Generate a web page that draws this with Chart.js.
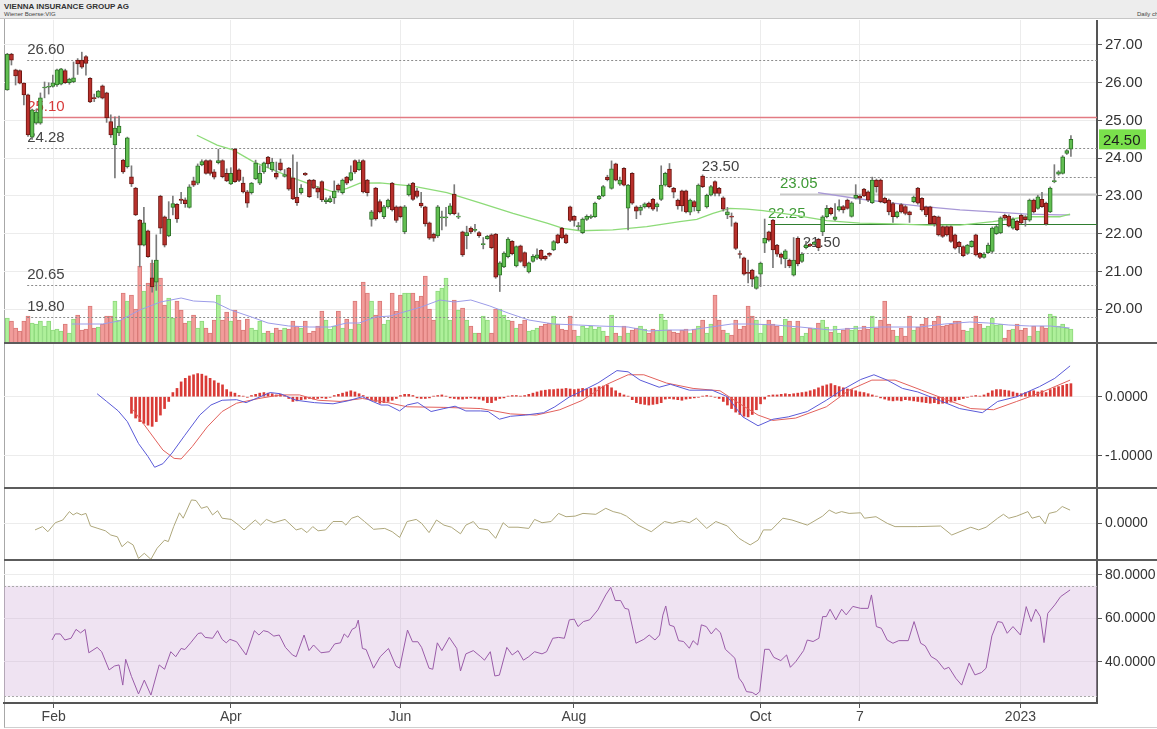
<!DOCTYPE html>
<html>
<head>
<meta charset="utf-8">
<script src="https://cdn.jsdelivr.net/npm/chart.js@4.4.1/dist/chart.umd.min.js"></script>
<style>
  body { margin: 0; background: #fff; width: 1157px; height: 729px; overflow: hidden; position: relative; font-family: 'Liberation Sans', Arial, sans-serif; }
  .pane { position: absolute; left: 0; width: 1157px; }
  #hdr { position: absolute; left: 0; top: 0; width: 1157px; height: 18px; background: #ededed; border-bottom: 1px solid #c6c6c6; overflow: hidden; }
  #hdr .t { position: absolute; left: 4px; top: 2px; font-size: 8px; font-weight: bold; color: #333; }
  #hdr .s { position: absolute; left: 4px; top: 11px; font-size: 6px; color: #444; }
  #hdr .d { position: absolute; left: 1137px; top: 11px; font-size: 6px; color: #444; white-space: nowrap; }
  .sep { position: absolute; left: 4px; width: 1153px; height: 2px; background: #5c5c5c; }
  #frame { position: absolute; left: 4px; top: 19px; width: 1153px; height: 708px; border-left: 1px solid #a8a8a8; border-bottom: 1px solid #cfcfcf; }
</style>
</head>
<body>
<div id="hdr">
  <div class="t">VIENNA INSURANCE GROUP AG</div>
  <div class="s">Wiener Boerse:VIG</div>
  <div class="d">Daily chart</div>
</div>
<div id="frame"></div>
<div class="pane" style="top:20px;height:323px"><canvas id="priceChart"></canvas></div>
<div class="pane" style="top:343px;height:145px"><canvas id="macdChart"></canvas></div>
<div class="pane" style="top:488px;height:72px"><canvas id="momChart"></canvas></div>
<div class="pane" style="top:560px;height:169px"><canvas id="rsiChart"></canvas></div>
<div class="sep" style="top:342px"></div>
<div class="sep" style="top:487px"></div>
<div class="sep" style="top:559px"></div>
<script>
// ---- daily candles, Jan 2022 .. Jan 2023 ----
const opens = [
  25.81, 26.76, 26.34, 26.32, 25.99, 25.68, 24.56, 24.93, 24.93, 25.86,
  25.88, 25.9, 25.94, 25.96, 26.32, 26.0, 26.02, 26.6, 26.6, 26.69,
  26.12, 25.6, 25.62, 25.92, 25.73, 24.97, 24.35, 24.67, 23.95, 23.78,
  23.51, 23.21, 22.36, 21.7, 22.08, 20.83, 20.72, 23.0, 22.45, 21.94,
  22.7, 22.78, 22.92, 22.9, 22.7, 23.4, 23.34, 23.82, 23.94, 23.94,
  23.64, 23.88, 23.94, 23.6, 23.32, 24.24, 23.69, 23.34, 23.11, 23.09,
  23.45, 23.34, 23.64, 24.03, 23.7, 23.6, 23.88, 23.52, 23.74, 23.48,
  22.97, 23.09, 23.6, 23.42, 23.42, 23.21, 23.38, 22.85, 22.85, 22.95,
  23.29, 23.09, 23.5, 23.42, 23.94, 23.7, 23.94, 23.42, 22.38, 23.21,
  22.85, 22.45, 22.71, 23.34, 22.71, 22.71, 22.05, 23.03, 23.34, 23.14,
  22.81, 22.71, 22.29, 21.99, 21.94, 22.42, 22.42, 22.53, 23.05, 22.44,
  22.05, 21.95, 22.15, 22.09, 22.03, 21.71, 21.87, 21.97, 21.99, 20.9,
  21.12, 21.39, 21.8, 21.15, 21.68, 21.5, 20.99, 21.27, 21.35, 21.56,
  21.4, 21.48, 21.57, 21.97, 22.15, 21.97, 22.71, 22.46, 22.19, 22.03,
  22.38, 22.43, 22.45, 22.92, 23.0, 23.5, 23.2, 23.85, 23.31, 23.73,
  22.68, 23.6, 22.71, 22.62, 22.71, 22.81, 22.91, 22.71, 22.91, 23.29,
  23.71, 23.2, 22.89, 23.14, 23.14, 22.57, 22.85, 22.61, 23.53, 22.71,
  23.02, 23.38, 23.2, 22.95, 22.5, 22.45, 22.29, 21.47, 21.36, 20.97,
  21.04, 20.55, 20.93, 21.75, 22.05, 22.36, 21.7, 21.46, 21.33, 21.3,
  20.9, 21.88, 21.27, 21.63, 21.72, 21.72, 21.85, 22.05, 22.45, 22.67,
  22.38, 22.63, 22.72, 22.89, 22.46, 22.94, 23.0, 23.18, 23.11, 22.82,
  23.42, 23.42, 22.94, 22.89, 22.8, 22.45, 22.77, 22.72, 22.58, 22.85,
  23.21, 22.94, 22.71, 22.71, 22.46, 22.45, 22.19, 22.19, 22.19, 21.97,
  21.77, 21.66, 21.48, 21.66, 21.97, 21.48, 21.37, 21.5, 21.53, 22.0,
  22.02, 22.49, 22.47, 22.15, 22.33, 22.49, 22.45, 22.36, 22.89, 22.67,
  22.91, 22.81, 22.58, 23.38, 23.58, 23.6, 24.13, 24.24
]
const highs = [
  26.78, 26.78, 26.36, 26.34, 26.0, 25.7, 25.3, 25.3, 25.73, 26.02,
  26.0, 26.2, 26.36, 26.38, 26.36, 26.12, 26.55, 26.64, 26.81, 26.72,
  26.14, 25.7, 25.8, 25.94, 25.75, 25.15, 25.1, 25.12, 23.97, 24.56,
  23.8, 23.23, 22.38, 22.7, 22.1, 21.3, 21.97, 23.02, 22.47, 22.85,
  23.0, 22.8, 23.1, 22.95, 23.3, 23.5, 23.85, 23.96, 23.96, 23.96,
  23.7, 24.24, 23.96, 23.72, 23.75, 24.26, 23.72, 23.5, 23.15, 23.36,
  23.95, 23.8, 23.9, 24.05, 24.0, 23.9, 23.98, 23.7, 23.76, 24.09,
  23.9, 23.3, 23.62, 23.44, 23.44, 23.25, 23.4, 22.95, 23.0, 23.4,
  23.32, 23.45, 23.52, 23.8, 23.96, 23.96, 23.96, 23.44, 22.62, 23.23,
  22.9, 22.75, 22.92, 23.36, 22.74, 22.73, 22.75, 23.32, 23.36, 23.2,
  23.1, 22.73, 22.31, 22.02, 22.75, 22.6, 22.7, 22.8, 23.3, 22.55,
  22.07, 22.2, 22.18, 22.25, 22.06, 21.9, 21.96, 22.0, 22.01, 21.26,
  21.52, 21.9, 21.82, 21.68, 21.7, 21.52, 21.25, 21.45, 21.6, 21.58,
  21.42, 21.5, 21.82, 21.99, 22.17, 22.0, 22.73, 22.48, 22.3, 22.42,
  22.5, 22.5, 22.84, 23.02, 23.28, 23.55, 23.93, 23.87, 23.5, 23.75,
  23.31, 23.62, 22.74, 22.75, 22.82, 22.84, 22.94, 22.82, 23.8, 23.63,
  23.86, 23.23, 22.92, 23.16, 23.16, 22.92, 22.88, 23.32, 23.56, 23.05,
  23.28, 23.4, 23.23, 22.98, 22.7, 22.55, 22.31, 21.55, 21.38, 21.3,
  21.06, 20.88, 21.25, 22.39, 22.07, 22.38, 21.72, 21.49, 21.58, 21.33,
  21.9, 21.92, 21.5, 21.8, 21.74, 21.8, 21.88, 22.48, 22.75, 22.7,
  22.8, 22.9, 22.75, 22.92, 22.85, 23.3, 23.03, 23.2, 23.14, 23.5,
  23.45, 23.45, 22.97, 22.92, 22.83, 22.6, 22.8, 22.75, 22.6, 23.0,
  23.23, 22.96, 22.73, 22.73, 22.48, 22.47, 22.21, 22.21, 22.21, 21.99,
  21.8, 21.68, 21.72, 21.82, 21.99, 21.5, 21.5, 21.75, 22.18, 22.22,
  22.45, 22.52, 22.5, 22.42, 22.36, 22.52, 22.48, 22.92, 22.92, 23.02,
  23.1, 22.84, 23.24, 23.83, 23.67, 24.07, 24.23, 24.6
]
const lows = [
  25.8, 26.47, 25.94, 25.97, 25.41, 24.58, 24.5, 24.9, 24.9, 25.6,
  25.7, 25.88, 25.9, 25.94, 25.98, 25.96, 26.0, 26.22, 26.38, 26.2,
  25.47, 25.5, 25.6, 25.57, 24.95, 24.55, 23.48, 24.6, 23.6, 23.74,
  23.25, 22.48, 21.12, 21.68, 21.37, 20.45, 20.5, 22.0, 21.65, 21.92,
  22.5, 22.3, 22.8, 22.7, 22.68, 23.25, 23.3, 23.8, 23.58, 23.55,
  23.45, 23.85, 23.48, 23.38, 23.3, 23.36, 23.38, 23.08, 22.7, 23.05,
  23.43, 23.3, 23.6, 23.75, 23.65, 23.45, 23.66, 23.5, 23.15, 22.9,
  22.75, 23.05, 23.54, 22.96, 23.19, 22.95, 22.85, 22.8, 22.82, 22.8,
  23.1, 23.05, 23.3, 23.4, 23.6, 23.68, 23.08, 23.0, 22.2, 22.36,
  22.55, 22.4, 22.68, 22.6, 22.3, 22.42, 22.0, 23.0, 22.88, 22.95,
  22.7, 22.2, 21.85, 21.8, 21.9, 22.1, 22.2, 22.5, 22.5, 22.4,
  21.4, 21.6, 22.0, 22.05, 21.9, 21.6, 21.85, 21.6, 20.82, 20.47,
  21.1, 21.36, 21.44, 21.12, 21.24, 21.1, 20.96, 21.25, 21.32, 21.3,
  21.3, 21.4, 21.55, 21.74, 21.86, 21.74, 22.32, 22.2, 22.1, 22.0,
  22.35, 22.4, 22.43, 22.9, 22.98, 23.4, 23.18, 23.4, 23.28, 23.27,
  22.1, 22.78, 22.4, 22.5, 22.68, 22.68, 22.62, 22.6, 22.88, 23.26,
  23.22, 22.95, 22.65, 22.6, 22.55, 22.5, 22.6, 22.55, 23.22, 22.68,
  23.0, 23.0, 23.0, 22.6, 22.4, 22.2, 21.58, 21.35, 20.9, 20.7,
  20.6, 20.53, 20.6, 21.5, 21.8, 21.1, 21.4, 21.2, 21.1, 21.1,
  20.88, 21.15, 21.24, 21.6, 21.66, 21.7, 21.55, 21.95, 22.42, 22.5,
  22.35, 22.6, 22.55, 22.65, 22.44, 22.92, 22.8, 22.98, 22.85, 22.8,
  23.1, 22.82, 22.8, 22.5, 22.3, 22.42, 22.55, 22.5, 22.3, 22.82,
  22.78, 22.6, 22.45, 22.24, 22.2, 21.94, 21.9, 21.94, 21.77, 21.59,
  21.5, 21.39, 21.45, 21.64, 21.41, 21.34, 21.35, 21.48, 21.5, 21.98,
  22.0, 22.38, 22.18, 22.12, 22.08, 22.26, 22.2, 22.33, 22.55, 22.65,
  22.7, 22.23, 22.56, 23.35, 23.55, 23.58, 24.1, 24.05
]
const closes = [
  26.76, 26.6, 26.18, 25.99, 25.68, 24.62, 25.28, 25.22, 25.6, 25.88,
  25.9, 26.0, 26.34, 26.37, 26.0, 26.1, 26.13, 26.5, 26.41, 26.51,
  25.49, 25.58, 25.78, 25.59, 25.07, 24.62, 24.8, 24.85, 23.64, 24.54,
  23.32, 22.5, 21.7, 22.29, 21.39, 20.59, 21.3, 22.15, 21.7, 22.39,
  22.8, 22.39, 22.88, 22.8, 23.24, 23.29, 23.8, 23.91, 23.6, 23.6,
  23.5, 23.94, 23.51, 23.4, 23.6, 23.38, 23.41, 23.11, 22.81, 23.34,
  23.87, 23.6, 23.88, 23.85, 23.9, 23.5, 23.69, 23.57, 23.18, 22.92,
  22.82, 23.21, 23.56, 22.98, 23.21, 23.1, 22.9, 22.9, 22.93, 23.13,
  23.16, 23.42, 23.34, 23.62, 23.64, 23.9, 23.11, 23.09, 22.58, 22.39,
  22.58, 22.71, 22.89, 22.63, 22.35, 22.45, 22.71, 23.29, 22.91, 22.99,
  22.74, 22.26, 21.88, 21.88, 22.71, 22.45, 22.44, 22.74, 22.53, 22.47,
  21.44, 22.03, 22.05, 22.11, 21.95, 21.73, 21.93, 21.63, 20.85, 21.23,
  21.49, 21.86, 21.47, 21.66, 21.27, 21.14, 21.23, 21.4, 21.44, 21.33,
  21.33, 21.43, 21.79, 21.76, 21.89, 21.76, 22.35, 22.35, 22.21, 22.39,
  22.46, 22.47, 22.81, 23.0, 23.25, 23.43, 23.72, 23.42, 23.42, 23.29,
  23.29, 22.81, 22.6, 22.7, 22.79, 22.71, 22.65, 22.79, 23.29, 23.6,
  23.25, 23.1, 22.74, 22.74, 22.58, 22.89, 22.71, 23.29, 23.25, 23.02,
  23.25, 23.07, 23.07, 22.65, 22.58, 22.44, 21.61, 21.45, 20.93, 20.95,
  20.8, 20.86, 21.22, 21.88, 21.83, 21.57, 21.46, 21.37, 21.55, 21.15,
  21.3, 21.2, 21.46, 21.7, 21.68, 21.78, 21.63, 22.45, 22.67, 22.53,
  22.45, 22.72, 22.63, 22.67, 22.82, 23.02, 22.94, 23.0, 22.89, 23.42,
  23.25, 22.85, 22.82, 22.58, 22.45, 22.58, 22.58, 22.54, 22.5, 22.97,
  22.81, 22.63, 22.5, 22.27, 22.27, 21.97, 21.93, 21.97, 21.8, 21.62,
  21.66, 21.42, 21.7, 21.8, 21.44, 21.37, 21.46, 21.7, 22.15, 22.19,
  22.42, 22.41, 22.2, 22.39, 22.11, 22.29, 22.37, 22.89, 22.58, 22.98,
  22.72, 22.26, 23.21, 23.4, 23.64, 24.04, 24.2, 24.5
]
// volume in thousand shares
const volumes = [
  50, 44, 30, 24, 44, 54, 40, 38, 44, 34,
  44, 26, 28, 24, 38, 20, 48, 56, 26, 28,
  74, 30, 32, 38, 54, 54, 84, 46, 100, 84,
  96, 68, 154, 104, 120, 160, 166, 130, 76, 90,
  50, 84, 66, 40, 44, 56, 30, 44, 30, 20,
  46, 96, 46, 62, 44, 66, 46, 26, 48, 30,
  26, 44, 20, 24, 20, 30, 26, 30, 28, 44,
  34, 30, 44, 20, 24, 34, 64, 46, 28, 34,
  64, 30, 48, 28, 84, 38, 122, 100, 84, 56,
  84, 38, 46, 100, 64, 96, 100, 100, 100, 84,
  94, 134, 68, 46, 104, 110, 130, 46, 86, 66,
  70, 46, 34, 20, 20, 54, 46, 20, 68, 68,
  56, 46, 44, 30, 38, 46, 24, 26, 30, 34,
  38, 40, 54, 38, 28, 26, 54, 26, 14, 34,
  30, 34, 28, 32, 24, 14, 56, 20, 14, 34,
  20, 26, 30, 34, 28, 20, 28, 26, 58, 46,
  26, 22, 20, 26, 28, 20, 28, 34, 46, 20,
  38, 96, 46, 26, 20, 16, 46, 28, 34, 74,
  54, 46, 20, 38, 46, 38, 34, 14, 48, 44,
  30, 44, 14, 20, 30, 28, 40, 46, 32, 22,
  34, 20, 26, 30, 26, 34, 26, 34, 28, 54,
  30, 46, 84, 38, 26, 14, 30, 14, 54, 26,
  32, 38, 50, 30, 44, 54, 34, 36, 38, 44,
  44, 26, 24, 30, 54, 38, 30, 34, 50, 36,
  38, 10, 26, 28, 38, 26, 30, 14, 34, 24,
  34, 30, 58, 54, 34, 38, 30, 28
]

// ---- overlay lines as [bar index, value] ----
const priceMA = [[45.8, 24.61], [50.7, 24.35], [54.5, 24.22], [59.4, 23.91], [64.2, 23.69], [69, 23.48],
  [74.8, 23.25], [78.7, 23.11], [82.1, 23.2], [85.2, 23.34], [90, 23.35], [98, 23.26], [106.2, 23.09],
  [114.2, 22.82], [122.2, 22.54], [130.4, 22.28], [134.3, 22.14], [138.4, 22.08], [146.3, 22.1],
  [154.5, 22.19], [162.5, 22.32], [166.6, 22.38], [170.5, 22.54], [174.6, 22.67], [178.7, 22.65],
  [182.6, 22.61], [189.8, 22.5], [198, 22.35], [206, 22.28], [214, 22.26], [222.2, 22.23],
  [230.2, 22.23], [238.1, 22.32], [246.4, 22.45], [254.3, 22.45], [256.8, 22.52]]
const longMA = [[195.9, 23.09], [206, 22.92], [214, 22.81], [222.2, 22.71], [230.2, 22.63],
  [238.1, 22.58], [246.4, 22.52], [254.3, 22.5], [256.8, 22.5]]
const volumeMA = [[15.6, 38], [23, 38], [27, 44], [32, 66], [37, 82], [42, 90], [45, 84], [50, 82],
  [54, 66], [59, 52], [63, 40], [68, 34], [73, 32], [78, 32], [82, 40], [85, 40], [89, 52], [92.5, 54],
  [95, 60], [100, 72], [104.5, 86], [108, 82], [112, 86], [116.6, 74], [121, 60], [126, 46], [132, 38],
  [138, 36], [143, 34], [150, 32], [155, 24], [160, 26], [165, 26], [170, 32], [175, 38], [180, 38],
  [185.5, 36], [191.5, 32], [199, 26], [206, 30], [211, 32], [215.7, 32], [220.5, 32], [226.5, 38],
  [232.6, 42], [237, 40], [242, 36], [247, 34], [252, 34], [256.7, 30]]

// ---- MACD ----
const macdLine = [[21.7, 0.05], [24, -0.08], [26.8, -0.24], [29, -0.42], [31.7, -0.79], [34, -1.01],
  [35.6, -1.19], [37.6, -1.13], [39.8, -0.95], [42.9, -0.65], [46.5, -0.31], [49.2, -0.14], [51.9, -0.06],
  [55.4, -0.05], [57.7, -0.1], [60.8, -0.01], [63.5, 0.07], [66, 0.05], [69.8, -0.06], [74.2, -0.1],
  [78.7, -0.12], [82.3, -0.07], [85.8, 0], [87.6, -0.06], [90.3, -0.14], [92, -0.14], [94.8, -0.24],
  [96.6, -0.14], [99.2, -0.1], [102.4, -0.25], [105.5, -0.2], [108.2, -0.16], [110.8, -0.24],
  [114.4, -0.24], [116.2, -0.25], [118.9, -0.38], [121.6, -0.33], [125.2, -0.31], [129.6, -0.27],
  [132.3, -0.17], [135.9, 0], [138.4, 0.08], [142.7, 0.23], [147.3, 0.44], [150, 0.42], [152.9, 0.28],
  [157.5, 0.16], [160.2, 0.21], [164.8, 0.11], [170.3, 0.11], [174, 0], [177.7, -0.34], [181.4, -0.49],
  [185, -0.38], [188.7, -0.34], [193.3, -0.25], [197.9, -0.06], [201.6, 0.11], [206.2, 0.29],
  [209.4, 0.37], [212.6, 0.28], [216.3, 0.14], [220, 0.08], [225.5, -0.07], [230.1, -0.2],
  [235.6, -0.27], [239.3, -0.08], [243.9, 0], [249.4, 0.17], [253.1, 0.31], [256.8, 0.52]]
const signalLine = [[30.4, -0.22], [34, -0.56], [37.6, -0.9], [40.3, -1.04], [42, -1.05], [44.7, -0.84],
  [48.3, -0.51], [51.9, -0.25], [55.4, -0.11], [60.8, -0.03], [66, 0.03], [70.6, 0.03], [75.1, -0.06],
  [80.4, -0.08], [85.8, -0.03], [92, -0.1], [96.6, -0.17], [105.5, -0.18], [114.4, -0.2], [121.6, -0.29],
  [127.8, -0.31], [133.5, -0.22], [139, -0.06], [144.6, 0.2], [150, 0.37], [153.8, 0.37], [159.3, 0.23],
  [165.7, 0.14], [172.2, 0.1], [176.8, -0.11], [181.4, -0.31], [185, -0.4], [190.5, -0.36],
  [197.9, -0.17], [203.4, 0.11], [208.9, 0.28], [214.5, 0.28], [220.9, 0.11], [227.3, -0.06],
  [232.8, -0.2], [238.3, -0.22], [243.9, -0.08], [249.4, 0.06], [256.8, 0.28]]
const histStart = 30
const macdHist = [
  -0.28, -0.36, -0.42, -0.45, -0.48, -0.5, -0.42, -0.31, -0.2, -0.08,
  0.07, 0.14, 0.25, 0.31, 0.35, 0.37, 0.39, 0.38, 0.35, 0.31,
  0.27, 0.23, 0.2, 0.12, 0.08, 0.06, 0.02, 0.01, -0.01, 0.02,
  0.04, 0.06, 0.07, 0.06, 0.05, 0.03, 0.04, 0.02, -0.03, -0.08,
  -0.07, -0.05, -0.04, -0.03, -0.04, -0.03, -0.02, -0.03, -0.01, 0.02,
  0.04, 0.06, 0.08, 0.1, 0.08, 0.05, 0.02, -0.03, -0.06, -0.08,
  -0.11, -0.1, -0.08, -0.06, -0.03, 0.02, 0.04, 0.04, 0.02, -0.02,
  -0.03, -0.03, -0.02, 0.01, 0.02, 0.03, 0.01, -0.02, -0.03, -0.04,
  -0.04, -0.03, -0.02, -0.03, -0.04, -0.06, -0.1, -0.1, -0.06, -0.03,
  -0.02, 0.01, 0.02, 0.02, 0.01, 0.02, 0.04, 0.06, 0.08, 0.1,
  0.11, 0.12, 0.12, 0.13, 0.13, 0.14, 0.13, 0.12, 0.13, 0.14,
  0.13, 0.14, 0.15, 0.17, 0.18, 0.2, 0.15, 0.1, 0.06, 0.03,
  0.01, -0.05, -0.1, -0.12, -0.13, -0.14, -0.13, -0.12, -0.1, -0.04,
  -0.03, -0.04, -0.05, -0.06, -0.04, -0.03, -0.02, -0.01, 0.01, 0.02,
  0.01, -0.01, -0.03, -0.08, -0.14, -0.2, -0.26, -0.3, -0.33, -0.34,
  -0.3, -0.22, -0.12, -0.04, 0.02, 0.03, 0.03, 0.04, 0.05, 0.04,
  0.05, 0.06, 0.07, 0.08, 0.1, 0.12, 0.15, 0.18, 0.2, 0.22,
  0.19, 0.17, 0.15, 0.13, 0.12, 0.1, 0.08, 0.07, 0.05, 0.03,
  0.01, -0.02, -0.04, -0.06, -0.07, -0.06, -0.07, -0.05, -0.06, -0.07,
  -0.08, -0.09, -0.1, -0.11, -0.1, -0.12, -0.11, -0.1, -0.09, -0.07,
  -0.05, -0.03, -0.01, 0.01, 0.02, 0.01, 0.03, 0.06, 0.1, 0.12,
  0.12, 0.11, 0.1, 0.08, 0.06, 0.05, 0.07, 0.09, 0.1, 0.08,
  0.1, 0.07, 0.12, 0.15, 0.17, 0.19, 0.21, 0.22
]

// ---- momentum ----
const momentum = [[6.7, -0.22], [8.5, -0.11], [9.8, -0.28], [11.6, 0.02], [13.4, 0.11], [15, 0.39],
  [15.9, 0.28], [16.8, 0.35], [17.9, 0.28], [19, 0.33], [20.1, -0.09], [21.9, -0.17], [23.7, -0.25],
  [25, -0.39], [26.6, -0.45], [27.7, -0.78], [29.1, -0.61], [30.4, -0.72], [31.7, -1.17], [33.1, -1.0],
  [34.7, -1.2], [36.2, -0.83], [38, -0.56], [38.9, -0.61], [40.2, -0.11], [41.6, 0.35], [42.5, 0.17],
  [44.5, 0.78], [45.6, 0.76], [46.9, 0.5], [48.3, 0.56], [49.6, 0.28], [50.8, 0.42], [51.9, 0.17],
  [54.1, 0.13], [55.9, -0.06], [57.2, -0.22], [59.9, 0.11], [61.2, -0.06], [62.6, 0.13], [64.4, 0.02],
  [67.1, 0.13], [69.8, -0.22], [71.1, -0.17], [72.4, -0.31], [73.8, -0.11], [75.1, -0.25], [76.9, -0.22],
  [78.7, 0.06], [80.9, 0.06], [81.8, -0.06], [83.2, 0.17], [84.7, 0.24], [86.3, 0.06], [88.5, -0.2],
  [91.2, -0.17], [93, -0.28], [94.8, -0.47], [96.6, 0.06], [98.8, 0.13], [100.1, 0], [101.9, -0.31],
  [103.7, 0.11], [105.5, -0.06], [107.3, -0.13], [109.5, -0.35], [110.8, -0.06], [112.6, 0.06],
  [114, -0.17], [116.2, -0.22], [118, -0.5], [119.8, 0.02], [121.1, -0.13], [123.4, -0.13], [126, -0.17],
  [127.4, 0.13], [129.2, 0.02], [131.4, 0.06], [133.2, 0.33], [135, 0.22], [137.2, 0.24], [139.1, 0.33],
  [142.2, 0.3], [144.6, 0.5], [146.4, 0.39], [148.2, 0.33], [149.6, 0.24], [152.4, -0.06], [155.6, -0.28],
  [158.8, 0.06], [160.7, 0], [163, 0.08], [164.8, 0.02], [166.5, 0.17], [169, -0.17], [171.2, 0.06],
  [174, -0.09], [176.8, -0.5], [178.1, -0.61], [179.5, -0.72], [181.4, -0.56], [182.7, -0.22],
  [184.6, -0.22], [187.4, 0.17], [189.6, 0.11], [193.3, -0.06], [197, 0.24], [198.6, 0.44], [200.2, 0.33],
  [201.6, 0.39], [203.4, 0.33], [206.2, 0.35], [207.1, 0.17], [209.9, 0.22], [212.6, 0], [214.5, -0.11],
  [220, -0.11], [225.5, -0.09], [228.2, -0.39], [232.8, -0.13], [234.7, -0.22], [236.5, -0.13],
  [239.3, 0.17], [240.7, 0.3], [242, 0.17], [243.9, 0.24], [246.6, 0.39], [247.6, 0.17], [249.4, 0.24],
  [250.8, -0.02], [251.7, 0.33], [253.5, 0.39], [254.9, 0.56], [256.8, 0.44]]

// ---- RSI ----
const rsi = [[10.8, 50], [11.6, 52.8], [12.8, 52.8], [13.9, 50], [15.4, 50.8], [16.6, 54.9], [17.7, 53.3],
  [18.8, 54.9], [19.7, 44.1], [21.7, 46.6], [22.8, 44.6], [24.6, 36.2], [25.9, 38], [27, 38.5], [27.9, 29.2],
  [28.6, 41.1], [30, 33.2], [31.7, 25.1], [33.1, 31.5], [34.7, 24.6], [36.7, 38.5], [38, 36.5], [39.5, 44.6],
  [40.7, 42.3], [42, 46.1], [42.9, 45.6], [44.3, 48.7], [46.1, 53], [46.9, 53.3], [47.8, 51.2], [49.6, 50.8],
  [50.8, 54.3], [51.9, 50.3], [52.9, 48.7], [53.8, 50.3], [55.4, 49.2], [57.7, 43.1], [59.7, 54.3],
  [60.8, 52.3], [61.9, 54.3], [63, 53.8], [64.4, 51.8], [65.7, 52.3], [67.2, 46.6], [68.9, 43.1],
  [69.8, 42.3], [71.7, 52.3], [72.9, 45.1], [74, 47.7], [75.8, 44.1], [77.8, 44.6], [79.1, 48.2],
  [80.5, 48.7], [81.4, 52.8], [82.3, 51.2], [83.3, 54.9], [84.2, 55.8], [84.8, 59.2], [85.8, 46.1],
  [86.7, 45.6], [88.5, 37], [90.1, 42.3], [92.1, 46.1], [93.9, 38], [94.8, 37], [96.7, 54.6], [97.9, 49.2],
  [99.2, 49.2], [100.1, 46.6], [101.9, 37], [102.8, 36.5], [103.9, 48.7], [105, 45.1], [106.8, 51.2],
  [108.6, 46.1], [109.5, 35.7], [110.8, 43.6], [112.6, 45.1], [114.4, 42.3], [115.3, 40.7], [116.7, 44.6],
  [117.8, 33.4], [118.9, 33.8], [120.7, 46.6], [122, 43.1], [123.4, 45.1], [124.7, 40.7], [126, 42.3],
  [127.4, 44.6], [129.2, 43.6], [130.3, 44.6], [131.8, 50.8], [133.2, 51.2], [134.6, 50.8], [135.8, 59.3],
  [137, 59.6], [137.9, 56.2], [139.2, 58.5], [140.7, 59.3], [142.7, 63.9], [144.6, 70.8], [145.8, 74.3],
  [146.9, 68.2], [148.2, 68.2], [149.2, 64.6], [150.1, 64.2], [151.2, 54.6], [151.9, 48.5], [153.8, 50.3],
  [155.1, 52.3], [156.5, 50], [157.6, 52.3], [158.4, 61.5], [159.1, 65.7], [160, 56.9], [161.1, 56.2],
  [162.2, 49.7], [163.4, 49.3], [164.8, 46.2], [165.7, 49.7], [166.8, 47.7], [167.7, 57], [168.9, 56.2],
  [170.1, 52.8], [171.2, 55.4], [172.3, 53.4], [173.5, 45.7], [174.7, 43.6], [175.8, 41.6], [176.8, 32.4],
  [177.7, 30.1], [178.6, 26.2], [180, 25.8], [180.9, 24.7], [181.8, 26.2], [183, 45.7], [184.1, 45.7],
  [185.2, 42], [186.9, 40.5], [188.3, 43.1], [189.2, 37.4], [190.5, 40], [192.4, 45.1], [193.3, 50],
  [194.7, 49.3], [196.1, 50.8], [197, 60.8], [197.9, 60.8], [198.8, 64.2], [200.2, 59.3], [201.6, 64.2],
  [202.7, 61.6], [204.3, 65.5], [206.2, 64.6], [208, 64.6], [208.8, 70.8], [210, 56.2], [211.2, 55.4],
  [212.6, 50], [214, 48.5], [215.4, 49.7], [217.7, 49.7], [219.1, 58.5], [220.7, 48.5], [221.8, 47.3],
  [223.2, 42.4], [224.6, 40.8], [226.4, 36.5], [227.5, 37.4], [229.2, 32.3], [230.6, 29.2], [232.4, 39.3],
  [233.8, 33.9], [235.4, 35], [236.5, 37], [237.9, 51.9], [239.3, 58.5], [240.4, 58.1], [241.6, 53.1],
  [243, 56.2], [244.8, 52.3], [246.2, 65.4], [247.4, 58.5], [248.5, 64.2], [249.6, 60.8], [250.5, 48.8],
  [251.4, 62.3], [253.1, 66.2], [254.5, 70], [256.8, 73.1]]
const rsiBand = [75, 24]

// ---- horizontal price levels and their starting bar ----
const levels = [26.60, 25.10, 24.28, 23.50, 23.05, 22.25, 21.50, 20.65, 19.80]
const levelStart = [4.8, 4.8, 4.8, 167.8, 186.7, 183.8, 192.2, 4.8, 4.8]

// ---- ticks ----
const priceTicks = [20, 21, 22, 23, 24, 25, 26, 27]
const macdTicks = [0, -1]
const momTicks = [0]
const rsiTicks = [40, 60, 80]
const xTickPos = [11.2, 54.0, 94.9, 136.9, 182.0, 206.0, 244.8]
const xTickText = ['Feb', 'Apr', 'Jun', 'Aug', 'Oct', '7', '2023']

const FONT = "'Liberation Sans', Arial, sans-serif"
Chart.defaults.font.family = FONT
Chart.defaults.animation = false
Chart.defaults.events = []
Chart.defaults.plugins.legend.display = false
Chart.defaults.plugins.tooltip.enabled = false

const pts = arr => arr.map(([x, y]) => ({ x, y }))
const up = i => closes[i] >= opens[i]

const levelStyle = {
    '25.10': { color: '#e27b83', width: 1.5, dash: [], text: '#d83a3a' },
    '23.05': { color: '#cacaca', width: 2, dash: [], text: '#3e9a35' },
    '22.25': { color: '#2f7d2f', width: 1, dash: [], text: '#3e9a35' }
}
const plainLevel = { color: '#8c8c8c', width: 1, dash: [2, 2], text: '#444' }

function xAxis(showLabels) {
    return {
        type: 'linear',
        min: -0.8,
        max: 263.3,
        offset: false,
        afterBuildTicks: axis => { axis.ticks = xTickPos.map(v => ({ value: v })) },
        afterFit: axis => {
            axis.height = showLabels ? 26 : 0
            axis.paddingLeft = 0
            axis.paddingRight = 0
        },
        grid: { color: '#ececec', offset: false, drawTicks: showLabels, tickLength: 5, tickColor: '#555' },
        border: { display: showLabels, color: '#555', width: 2 },
        ticks: {
            display: showLabels,
            autoSkip: false,
            maxRotation: 0,
            padding: 1,
            color: '#444',
            font: { size: 14 },
            callback: (v, idx) => xTickText[idx]
        }
    }
}

function yAxis(min, max, tickList, digits, size) {
    return {
        type: 'linear',
        position: 'right',
        min: min,
        max: max,
        afterBuildTicks: axis => { axis.ticks = tickList.map(v => ({ value: v })) },
        afterFit: axis => {
            axis.width = 60
            axis.paddingTop = 0
            axis.paddingBottom = 0
        },
        grid: { color: '#ececec', drawTicks: true, tickLength: 5, tickColor: '#555' },
        border: { display: true, color: '#555', width: 2 },
        ticks: {
            padding: 3,
            color: '#333',
            font: { size: size },
            callback: v => v.toFixed(digits)
        }
    }
}

const layout = { padding: { left: 4, right: 0, top: 0, bottom: 0 } }

// levels are drawn right after the volume bars, under the candles
const levelPlugin = {
    id: 'levels',
    afterDatasetDraw(chart, args) {
        if (args.index !== 5) return
        const { ctx, chartArea } = chart
        const ys = chart.scales.y
        const xs = chart.scales.x
        ctx.save()
        ctx.font = '15px ' + FONT
        ctx.textBaseline = 'bottom'
        levels.forEach((v, k) => {
            const st = levelStyle[v.toFixed(2)] || plainLevel
            const y = Math.round(ys.getPixelForValue(v)) + 0.5
            const x0 = xs.getPixelForValue(levelStart[k])
            ctx.strokeStyle = st.color
            ctx.lineWidth = st.width
            ctx.setLineDash(st.dash)
            ctx.beginPath()
            ctx.moveTo(x0, y)
            ctx.lineTo(chartArea.right, y)
            ctx.stroke()
            ctx.fillStyle = st.text
            ctx.fillText(v.toFixed(2), x0, y - 3)
        })
        ctx.restore()
    },
    afterDraw(chart) {
        const { ctx, chartArea } = chart
        const last = closes[closes.length - 1]
        const y = chart.scales.y.getPixelForValue(last)
        ctx.save()
        ctx.fillStyle = '#7ae04c'
        ctx.fillRect(chartArea.right + 2, y - 10, 47, 20)
        ctx.fillStyle = '#1c1c1c'
        ctx.font = '15px ' + FONT
        ctx.textBaseline = 'middle'
        ctx.fillText(last.toFixed(2), chartArea.right + 6, y + 1)
        ctx.restore()
    }
}

new Chart(document.getElementById('priceChart'), {
    type: 'bar',
    data: {
        datasets: [
            {
                data: closes.map((c, i) => ({ x: i, y: [opens[i], c] })),
                backgroundColor: ctx => up(ctx.dataIndex) ? '#62bf52' : '#b8302c',
                borderColor: ctx => up(ctx.dataIndex) ? '#2e7328' : '#6e1712',
                borderWidth: 1,
                borderSkipped: false,
                barThickness: 4,
                minBarLength: 1,
                grouped: false,
                order: 1,
                yAxisID: 'y'
            },
            {
                data: highs.map((h, i) => ({ x: i, y: [lows[i], h] })),
                backgroundColor: '#7a7a7a',
                barThickness: 1,
                grouped: false,
                order: 2,
                yAxisID: 'y'
            },
            {
                type: 'line',
                data: pts(priceMA),
                borderColor: '#8ddb78',
                borderWidth: 1.3,
                pointRadius: 0,
                order: 3,
                yAxisID: 'y'
            },
            {
                type: 'line',
                data: pts(longMA),
                borderColor: '#a898d6',
                borderWidth: 1.3,
                pointRadius: 0,
                order: 3,
                yAxisID: 'y'
            },
            {
                type: 'line',
                data: pts(volumeMA),
                borderColor: '#9c9ce8',
                borderWidth: 1,
                pointRadius: 0,
                order: 4,
                yAxisID: 'yv'
            },
            {
                data: volumes.map((v, i) => ({ x: i, y: v })),
                backgroundColor: ctx => up(ctx.dataIndex) ? '#aef09a' : '#f29c9a',
                borderColor: ctx => up(ctx.dataIndex) ? '#8ed87c' : '#d97a78',
                borderWidth: 1,
                barPercentage: 1,
                categoryPercentage: 1,
                grouped: false,
                order: 5,
                yAxisID: 'yv'
            }
        ]
    },
    options: {
        responsive: true,
        maintainAspectRatio: false,
        layout: layout,
        scales: {
            x: xAxis(false),
            y: yAxis(19.106, 27.662, priceTicks, 2, 15),
            yv: { display: false, min: 0, max: 646 }
        }
    },
    plugins: [levelPlugin]
})

new Chart(document.getElementById('macdChart'), {
    type: 'bar',
    data: {
        datasets: [
            {
                type: 'line',
                data: pts(macdLine),
                borderColor: '#5a5ad8',
                borderWidth: 1,
                pointRadius: 0,
                order: 1
            },
            {
                type: 'line',
                data: pts(signalLine),
                borderColor: '#e2615c',
                borderWidth: 1,
                pointRadius: 0,
                order: 2
            },
            {
                data: macdHist.map((v, k) => ({ x: histStart + k, y: v })),
                backgroundColor: '#d93a36',
                barThickness: 2,
                grouped: false,
                order: 3
            }
        ]
    },
    options: {
        responsive: true,
        maintainAspectRatio: false,
        layout: layout,
        scales: {
            x: xAxis(false),
            y: yAxis(-1.54, 0.906, macdTicks, 4, 14)
        }
    }
})

new Chart(document.getElementById('momChart'), {
    type: 'line',
    data: {
        datasets: [{
            data: pts(momentum),
            borderColor: '#aea77b',
            borderWidth: 1,
            pointRadius: 0
        }]
    },
    options: {
        responsive: true,
        maintainAspectRatio: false,
        layout: layout,
        scales: {
            x: xAxis(false),
            y: yAxis(-1.223, 1.177, momTicks, 4, 14)
        }
    }
})

const bandPlugin = {
    id: 'rsiBand',
    beforeDatasetsDraw(chart) {
        const { ctx, chartArea } = chart
        const ys = chart.scales.y
        const top = ys.getPixelForValue(rsiBand[0])
        const bottom = ys.getPixelForValue(rsiBand[1])
        ctx.save()
        ctx.fillStyle = 'rgba(205, 170, 215, 0.33)'
        ctx.fillRect(chartArea.left, top, chartArea.right - chartArea.left, bottom - top)
        ctx.strokeStyle = '#a9a9a9'
        ctx.lineWidth = 1
        ctx.setLineDash([2, 2])
        ;[top, bottom].forEach(y => {
            ctx.beginPath()
            ctx.moveTo(chartArea.left, Math.round(y) + 0.5)
            ctx.lineTo(chartArea.right, Math.round(y) + 0.5)
            ctx.stroke()
        })
        ctx.restore()
    }
}

new Chart(document.getElementById('rsiChart'), {
    type: 'line',
    data: {
        datasets: [{
            data: pts(rsi),
            borderColor: '#9a5ca8',
            borderWidth: 1,
            pointRadius: 0
        }]
    },
    options: {
        responsive: true,
        maintainAspectRatio: false,
        layout: layout,
        scales: {
            x: xAxis(true),
            y: yAxis(20.93, 86.92, rsiTicks, 4, 14)
        }
    },
    plugins: [bandPlugin]
})
</script>
</body>
</html>
